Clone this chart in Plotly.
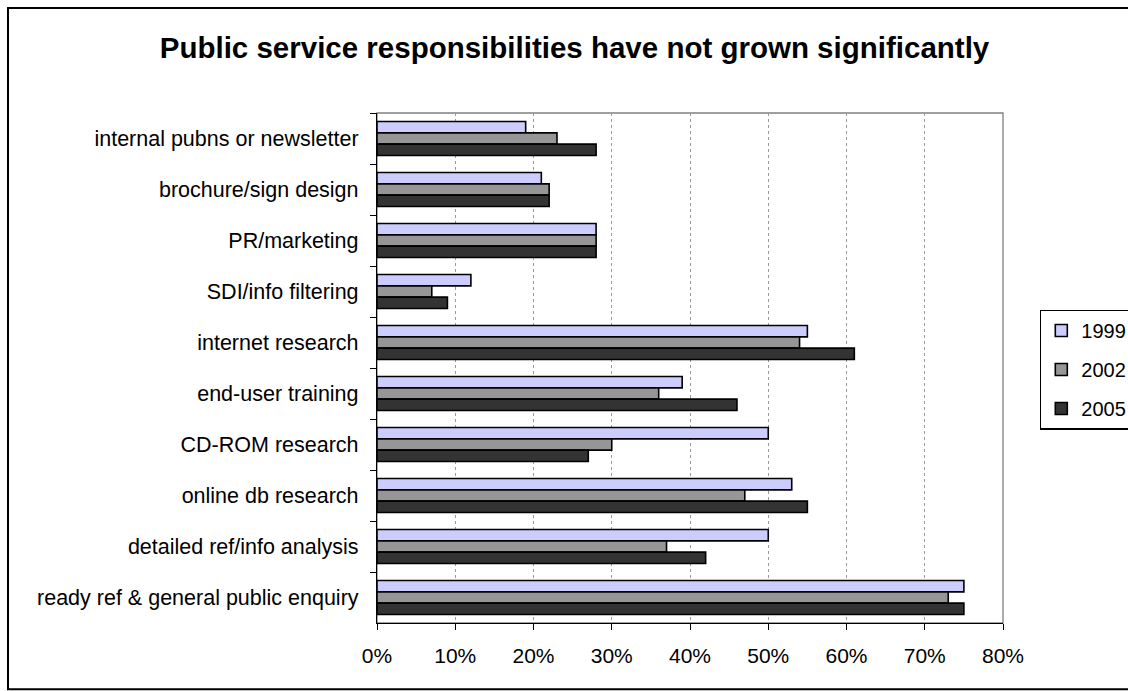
import plotly.graph_objects as go

categories = [
    "internal pubns or newsletter",
    "brochure/sign design",
    "PR/marketing",
    "SDI/info filtering",
    "internet research",
    "end-user training",
    "CD-ROM research",
    "online db research",
    "detailed ref/info analysis",
    "ready ref & general public enquiry",
]
series_names = ["1999", "2002", "2005"]
values_1999 = [19, 21, 28, 12, 55, 39, 50, 53, 50, 75]
values_2002 = [23, 22, 28, 7, 54, 36, 30, 47, 37, 73]
values_2005 = [28, 22, 28, 9, 61, 46, 27, 55, 42, 75]
x_ticks = [0, 10, 20, 30, 40, 50, 60, 70, 80]
x_tick_labels = ["0%", "10%", "20%", "30%", "40%", "50%", "60%", "70%", "80%"]
colors = ["#CCCCFF", "#969696", "#333333"]

FONT = "Liberation Sans, Arial, sans-serif"
W, H = 1128, 691
L, R, T, B = 377, 1003, 112.5, 622.7

fig = go.Figure()
for name, vals, col in zip(series_names, [values_1999, values_2002, values_2005], colors):
    fig.add_trace(go.Bar(
        y=categories, x=vals, name=name, orientation="h",
        marker=dict(color=col, line=dict(color="black", width=1.6)),
        legendgroup=name,
    ))

pw, ph = R - L, B - T
def px(x):
    return (x - L) / pw
def py(y):
    return (B - y) / ph

fig.update_layout(
    width=W, height=H,
    margin=dict(l=L, r=W - R, t=T, b=H - B, autoexpand=False),
    paper_bgcolor="white", plot_bgcolor="white",
    barmode="group", bargap=0.333, bargroupgap=0,
    font=dict(family=FONT, color="black", size=21),
    title=dict(
        text="<b>Public service responsibilities have not grown significantly</b>",
        x=574.5 / W, xanchor="center", xref="container",
        y=1 - 48 / H, yanchor="middle",
        font=dict(family=FONT, size=29.5, color="black"),
    ),
    legend=dict(
        x=px(1040), y=py(309.3), xanchor="left", yanchor="top",
        bordercolor="black", borderwidth=1.3, bgcolor="white",
        font=dict(family=FONT, size=20, color="black"),
        traceorder="grouped", tracegroupgap=10, itemwidth=30,
        entrywidth=110, entrywidthmode="pixels",
    ),
    showlegend=True,
)

fig.update_xaxes(
    range=[0, 80], tickvals=x_ticks, ticktext=x_tick_labels,
    showgrid=True, gridcolor="#9a9a9a", griddash="dot", gridwidth=1,
    showline=True, linecolor="black", linewidth=1.3,
    ticks="outside", ticklen=6, tickcolor="black", tickwidth=1.3,
    ticklabelstandoff=8,
    tickfont=dict(family=FONT, size=21, color="black"),
    zeroline=False, fixedrange=True,
)
fig.update_yaxes(
    autorange="reversed", type="category",
    showline=True, linecolor="black", linewidth=1.3,
    ticks="outside", ticklen=6, tickcolor="black", tickwidth=1.3,
    tickson="boundaries", ticklabelstandoff=13,
    tickfont=dict(family=FONT, size=21.5, color="black"),
    showgrid=False, fixedrange=True,
)

# plot-area border (gray top/right)
fig.add_shape(type="rect", xref="x domain", yref="y domain", x0=0, x1=1, y0=0, y1=1,
              line=dict(color="#808080", width=1.3), layer="below")
# outer chart frame
fig.add_shape(type="rect", xref="paper", yref="paper",
              x0=px(8), x1=px(1140), y0=py(689), y1=py(7.5),
              line=dict(color="black", width=2), fillcolor="rgba(0,0,0,0)", layer="below")

fig.write_html(
    "out.html",
    config={"displayModeBar": False},
    post_script="document.body.style.margin='0';document.body.style.overflow='hidden';",
)
